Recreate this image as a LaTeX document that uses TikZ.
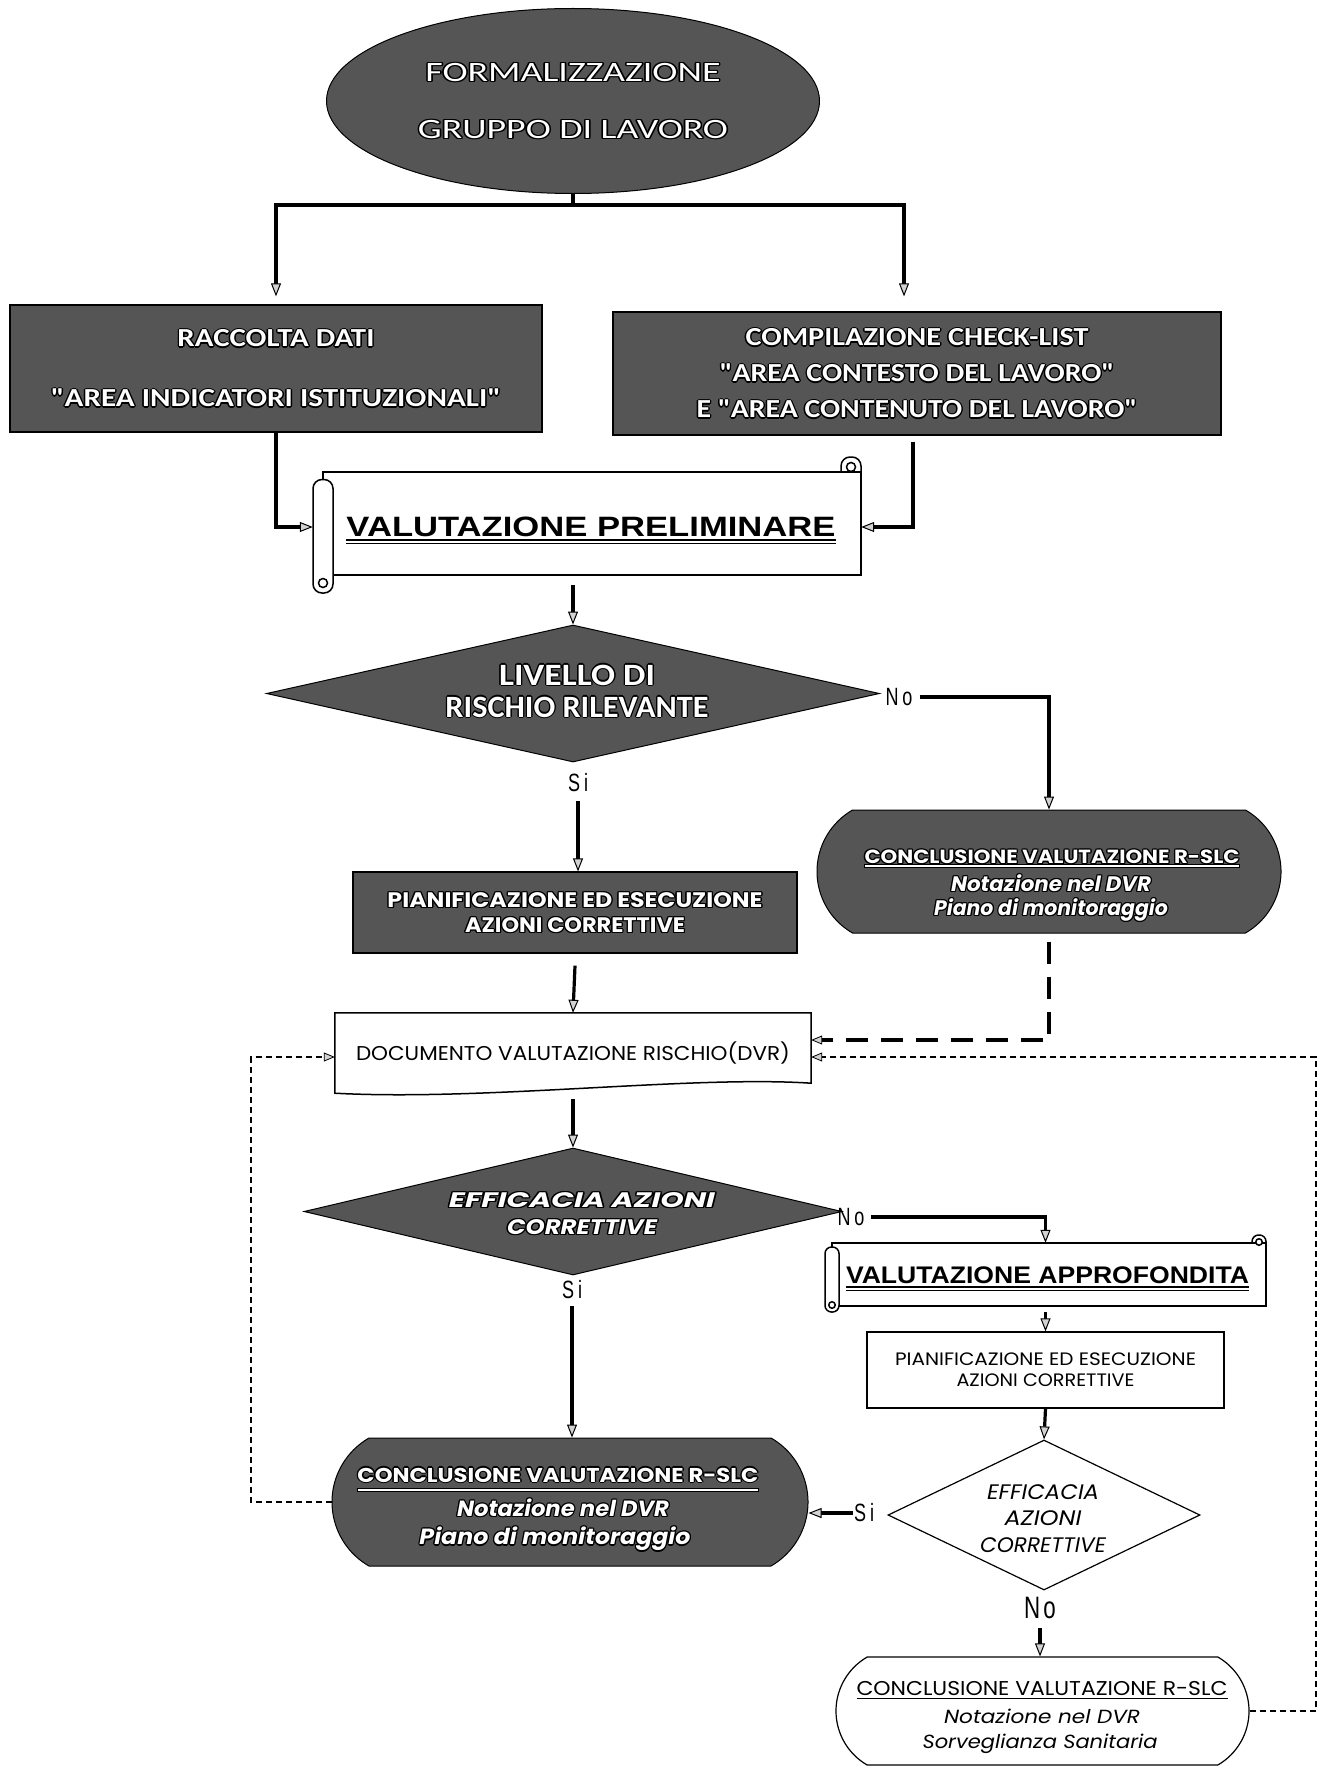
\documentclass[tikz,border=0pt]{standalone}
\usepackage{fontspec}
\usepackage{graphicx}
\setmainfont{Carlito}
\newfontfamily\gothic{Poppins}
\newfontfamily\arialf{Liberation Sans}
\newfontfamily\narrowf[FakeStretch=0.72]{Liberation Sans}
\newfontfamily\calW[Color=FFFFFF,Ligatures=TeXOff]{Carlito}
\newfontfamily\calK[Color=000000,Ligatures=TeXOff]{Carlito}
\newfontfamily\gotW[Color=FFFFFF]{Poppins}
\newfontfamily\gotK[Color=000000]{Poppins}
\usetikzlibrary{arrows.meta,shapes.geometric,shapes.misc,calc}
\definecolor{darkfill}{RGB}{85,85,85}
\newcommand\fsz[2]{\fontsize{#1pt}{#2pt}\selectfont}
\newsavebox\wfbox
\newcommand\wfit[2]{\sbox\wfbox{#2}\resizebox{#1pt}{\ht\wfbox}{\usebox\wfbox}}
% halo text: #1 black family, #2 white family, #3 text
\newcommand\hl[3]{{\setbox0\hbox{#1#3}\setbox2\hbox{#2#3}%
 \rlap{\kern-1.2pt\copy0}\rlap{\kern1.2pt\copy0}\rlap{\raise1.2pt\copy0}\rlap{\lower1.2pt\copy0}%
 \rlap{\kern-.9pt\raise.9pt\copy0}\rlap{\kern.9pt\raise.9pt\copy0}%
 \rlap{\kern-.9pt\lower.9pt\copy0}\rlap{\kern.9pt\lower.9pt\copy0}%
 \box2}}
\newcommand\hc[1]{\hl\calK\calW{#1}}
\newcommand\hg[1]{\hl\gotK\gotW{#1}}
\newcommand\ulA[1]{\vtop{\hbox{#1}\kern2.5pt\hrule height 2pt\kern1.5pt\hrule height 1pt}}
\newcommand\ulB[1]{\vtop{\hbox{#1}\kern2pt\hrule height 1.3pt}}
% scroll: x0 y0 x1 y1 rise gap colwidth radius
\newcommand\scrollshape[8]{%
 \draw[scr, rounded corners=#8] (#3-#7,#2-#5) rectangle (#3,#2+#7);
 \draw[scr] (#1+#7/2,#2) rectangle (#3,#4-#6);
 \draw[scr, rounded corners=#8] (#1,#2+#5/2) rectangle (#1+#7,#4);
 \draw[scr] (#3-#7/2,#2-#5+#7/2) circle (#8/2);
 \draw[scr] (#1+#7/2,#4-#7/2) circle (#8/2);
}
\begin{document}
\begin{tikzpicture}[x=1pt,y=-1pt,
 conn/.style={line width=3.2pt, draw=black},
 arr/.style={conn, -{Triangle[length=13pt,width=10pt,fill=gray!35,line width=1pt]}},
 dtip/.style={-{Triangle[length=11pt,width=9pt,fill=gray!35,line width=0.8pt]}},
 thickdash/.style={line width=4pt, dash pattern=on 22pt off 13pt},
 thindash/.style={line width=1.5pt, dash pattern=on 6pt off 4pt},
 darkbox/.style={draw=black, line width=1.2pt, fill=darkfill, inner sep=0, align=center},
 whitebox/.style={draw=black, line width=1.2pt, fill=white, inner sep=0, align=center},
 scr/.style={draw=black, line width=1.5pt, fill=white},
 lbl/.style={font=\narrowf\fsz{25}{25}, inner sep=1pt},
 txt/.style={align=center, inner sep=0},
 term/.style={rounded rectangle, rounded rectangle arc length=120, inner sep=0},
 hul/.style={line cap=butt},
]
\useasboundingbox (0,0) rectangle (1328,1766);
\fill[white] (0,0) rectangle (1328,1766);

% ---- top ellipse
\node[ellipse, draw=black, line width=1pt, fill=darkfill, minimum width=493, minimum height=185,
  inner sep=0, align=center, font=\fsz{28}{57}] (form) at (573,101)
  {\wfit{295}{\hc{FORMALIZZAZIONE}}\\\wfit{310}{\hc{GRUPPO DI LAVORO}}};

% ---- two dark boxes
\node[darkbox, minimum width=532, minimum height=127, font=\bfseries\fsz{26}{60}] (racc) at (276,368.5)
  {\wfit{197}{\hc{RACCOLTA DATI}}\\\wfit{450}{\hc{"AREA INDICATORI ISTITUZIONALI"}}};
\node[darkbox, minimum width=608, minimum height=123, font=\bfseries\fsz{26}{36}] (comp) at (917,373.5)
  {\wfit{343}{\hc{COMPILAZIONE CHECK-LIST}}\\\wfit{395}{\hc{"AREA CONTESTO DEL LAVORO"}}\\\wfit{441}{\hc{E "AREA CONTENUTO DEL LAVORO"}}};

% ---- scroll 1
\scrollshape{313}{472}{861}{593}{15}{18}{20}{9}
\node[minimum width=548, minimum height=121, inner sep=0] (prel) at (587,532.5) {};
\node[txt, font=\arialf\bfseries\fsz{28}{28}] (prel-t) at (591,530.5)
  {\wfit{489}{\ulA{VALUTAZIONE PRELIMINARE}}};

% ---- diamond 1
\node[diamond, draw=black, line width=1pt, fill=darkfill, minimum width=613, minimum height=137, inner sep=0] (liv) at (573,693.5) {};
\node[txt, font=\bfseries\fsz{31}{32}] (liv-t) at (577,691)
  {\wfit{156}{\hc{LIVELLO DI}}\\\wfit{263}{\hc{RISCHIO RILEVANTE}}};
\node[lbl] (no1) at (899,697) {N\kern4pt o};
\node[lbl] (si1) at (578,783) {S\kern4pt i};

% ---- planning dark box
\node[darkbox, minimum width=444, minimum height=81, font=\bfseries\fsz{21}{25}] (pian1) at (575,912.5)
  {\wfit{375}{\hg{PIANIFICAZIONE ED ESECUZIONE}}\\\wfit{220}{\hg{AZIONI CORRETTIVE}}};

% ---- conclusion 1 (dark terminator)
\node[term, draw=black, line width=1pt, fill=darkfill, minimum width=464, minimum height=123] (concl1) at (1049,871.5) {};
\node[txt, font=\bfseries\fsz{19}{19}] (concl1-a) at (1052,857) {\wfit{375}{\hg{CONCLUSIONE VALUTAZIONE R-SLC}}};
\node[txt, font=\bfseries\itshape\fsz{21}{21}] (concl1-b) at (1051,883) {\wfit{200}{\hg{Notazione nel DVR}}};
\node[txt, font=\bfseries\itshape\fsz{21}{21}] (concl1-c) at (1051,910) {\wfit{234}{\hg{Piano di monitoraggio}}};
\draw[hul, line width=3.4pt, black] ($(concl1-a.center)+(-188,9)$) -- ($(concl1-a.center)+(188,9)$);
\draw[hul, line width=1.4pt, white] ($(concl1-a.center)+(-187,9)$) -- ($(concl1-a.center)+(187,9)$);

% ---- DVR document
\node[minimum width=476, minimum height=80, inner sep=0] (dvr) at (573,1053) {};
\draw[line width=1.5pt, fill=white] (dvr.north west) -- (dvr.north east) -- ($(dvr.south east)+(0,-10)$)
  .. controls +(-120,-8) and +(150,8) .. (dvr.south west) -- cycle;
\node[txt, font=\gothic\fsz{20}{20}] (dvr-t) at (dvr.center) {\wfit{434}{DOCUMENTO VALUTAZIONE RISCHIO(DVR)}};

% ---- diamond 2
\node[diamond, draw=black, line width=1pt, fill=darkfill, minimum width=538, minimum height=127, inner sep=0] (eff) at (573,1211.5) {};
\node[txt, font=\bfseries\itshape\fsz{21}{27}] (eff-t) at (582,1213.5)
  {\wfit{266}{\hg{EFFICACIA AZIONI}}\\\wfit{150}{\hg{CORRETTIVE}}};
\node[lbl] (no2) at (851,1217) {N\kern4pt o};
\node[lbl] (si2) at (572,1290) {S\kern4pt i};

% ---- scroll 2
\scrollshape{825}{1243}{1266}{1312}{8}{6}{14}{6.5}
\node[minimum width=441, minimum height=69, inner sep=0] (appr) at (1045.5,1277.5) {};
\node[txt, font=\arialf\bfseries\fsz{24}{24}] (appr-t) at (1047.5,1278.5)
  {\wfit{403}{\ulA{VALUTAZIONE APPROFONDITA}}};

% ---- white planning box
\node[whitebox, minimum width=357, minimum height=76, font=\gothic\fsz{18}{21}] (pian2) at (1045.5,1370)
  {\wfit{301}{PIANIFICAZIONE ED ESECUZIONE}\\\wfit{178}{AZIONI CORRETTIVE}};

% ---- diamond 3
\node[diamond, draw=black, line width=1.2pt, fill=white, minimum width=312, minimum height=150, inner sep=0] (eff2) at (1044,1515) {};
\node[txt, font=\gothic\itshape\fsz{21}{26.5}] (eff2-t) at (1043,1518.5)
  {\wfit{112}{EFFICACIA}\\\wfit{77}{AZIONI}\\\wfit{126}{CORRETTIVE}};
\node[lbl] (si3) at (864,1513) {S\kern4pt i};
\node[lbl, font=\narrowf\fsz{31}{31}] (no3) at (1040,1608) {N\kern3pt o};

% ---- conclusion 2 (dark terminator)
\node[term, draw=black, line width=1pt, fill=darkfill, minimum width=476, minimum height=128] (concl2) at (570,1502) {};
\node[txt, font=\bfseries\fsz{20}{20}] (concl2-a) at (558,1475) {\wfit{401}{\hg{CONCLUSIONE VALUTAZIONE R-SLC}}};
\node[txt, font=\bfseries\itshape\fsz{22}{22}] (concl2-b) at (563,1508) {\wfit{212}{\hg{Notazione nel DVR}}};
\node[txt, font=\bfseries\itshape\fsz{22}{22}] (concl2-c) at (555,1539) {\wfit{271}{\hg{Piano di monitoraggio}}};
\draw[hul, line width=3.6pt, black] ($(concl2-a.center)+(-201,15)$) -- ($(concl2-a.center)+(201,15)$);
\draw[hul, line width=1.6pt, white] ($(concl2-a.center)+(-200,15)$) -- ($(concl2-a.center)+(200,15)$);

% ---- conclusion 3 (white terminator)
\node[term, draw=black, line width=1.2pt, fill=white, minimum width=413, minimum height=108] (concl3) at (1042.5,1711) {};
\node[txt, font=\gothic\fsz{20}{20}] (concl3-a) at (1042,1690) {\wfit{371}{\ulB{CONCLUSIONE VALUTAZIONE R-SLC}}};
\node[txt, font=\gothic\itshape\fsz{19}{19}] (concl3-b) at (1042,1716) {\wfit{196}{Notazione nel DVR}};
\node[txt, font=\gothic\itshape\fsz{19}{19}] (concl3-c) at (1040,1744) {\wfit{235}{Sorveglianza Sanitaria}};

% ---- connectors
\coordinate (fj) at (573,205);
\draw[conn] (form.south) -- (fj);
\draw[arr] (fj) -| ([yshift=8pt]racc.north);
\draw[arr] (fj) -| ([xshift=-13pt,yshift=15pt]comp.north);
\draw[arr] (racc.south) |- ([yshift=5.5pt]prel.west);
\draw[arr] ([xshift=-4pt,yshift=-6pt]comp.south) |- ([yshift=5.5pt]prel.east);
\draw[arr] ([yshift=8pt]prel.south -| liv.north) -- (liv.north);
\draw[arr] ([xshift=6pt]no1.east) -| (concl1.north);
\draw[arr] ([yshift=-8pt]si1.south) -- (si1.south |- pian1.north);
\draw[arr] ([yshift=-12pt]pian1.south) -- (dvr.north);
\draw[arr] ([yshift=-6pt]dvr.south) -- (eff.north);
\draw[arr] ([xshift=5pt]no2.east) -| (appr.north);
\draw[arr] ([yshift=-6pt]si2.south) -- (si2.south |- concl2.north);
\draw[arr] (appr.south) -- (pian2.north);
\draw[arr] (pian2.south) -- (eff2.north);
\draw[arr] (si3.west) -- (si3.west -| concl2.east);
\draw[arr] ([yshift=-8pt]no3.south) -- (no3.south |- concl3.north);

\coordinate (dvrA) at ($(dvr.east)+(0,-13)$);
\coordinate (dvrB) at ($(dvr.east)+(0,4)$);
\coordinate (dvrC) at ($(dvr.west)+(0,4)$);
\coordinate (rl) at (1316,1715);
\coordinate (ll) at (251,1513);
\draw[thickdash, dtip] ([yshift=-8pt]concl1.south) |- (dvrA);
\draw[thindash, dtip] (concl3.east) -- (concl3.east -| rl) |- (dvrB);
\draw[thindash, dtip] (concl2.west) -- (concl2.west -| ll) |- (dvrC);
\end{tikzpicture}
\end{document}
